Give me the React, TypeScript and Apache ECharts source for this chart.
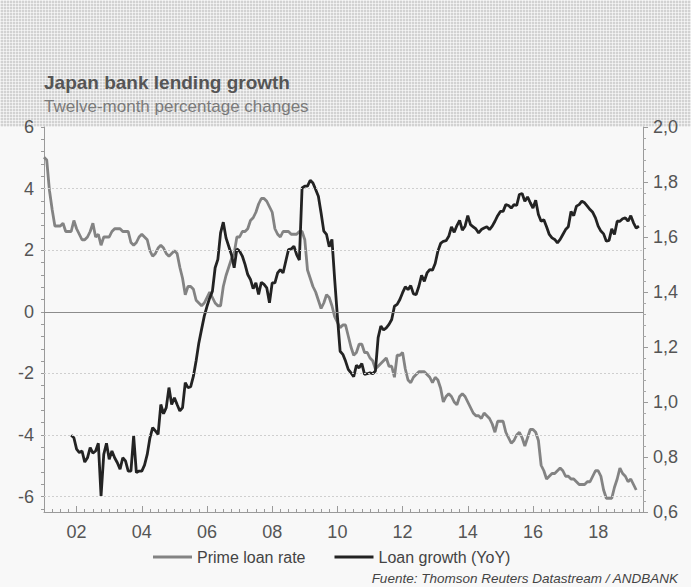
import React, { useEffect, useRef } from "react";
import * as echarts from "echarts";

// ---- Data ----
const titleText = "Japan bank lending growth";
const subtitleText = "Twelve-month percentage changes";
const sourceText = "Fuente: Thomson Reuters Datastream / ANDBANK";

const primeName = "Prime loan rate";
const loanName = "Loan growth (YoY)";

// Monthly, right axis, starts Jan 2001
const primeStart = "2001-01";
const primeLoanRate = [
  1.89, 1.88, 1.77, 1.70, 1.64, 1.64, 1.64, 1.65, 1.62, 1.62,
  1.62, 1.66, 1.63, 1.61, 1.59, 1.59, 1.60, 1.62, 1.65, 1.60,
  1.61, 1.57, 1.60, 1.60, 1.60, 1.62, 1.63, 1.63, 1.63, 1.62,
  1.62, 1.62, 1.58, 1.57, 1.58, 1.60, 1.61, 1.60, 1.59, 1.55,
  1.53, 1.54, 1.56, 1.57, 1.56, 1.54, 1.53, 1.54, 1.55, 1.54,
  1.49, 1.45, 1.39, 1.42, 1.42, 1.41, 1.37, 1.36, 1.35, 1.36,
  1.38, 1.40, 1.38, 1.36, 1.35, 1.35, 1.42, 1.46, 1.49, 1.52,
  1.54, 1.60, 1.60, 1.62, 1.62, 1.63, 1.66, 1.67, 1.69, 1.72,
  1.74, 1.74, 1.73, 1.71, 1.69, 1.63, 1.61, 1.60, 1.62, 1.62,
  1.62, 1.61, 1.61, 1.61, 1.62, 1.62, 1.59, 1.48, 1.45, 1.42,
  1.40, 1.37, 1.34, 1.36, 1.39, 1.38, 1.35, 1.31, 1.29, 1.27,
  1.28, 1.28, 1.24, 1.20, 1.17, 1.18, 1.21, 1.21, 1.18, 1.18,
  1.16, 1.15, 1.12, 1.13, 1.14, 1.15, 1.16, 1.13, 1.13, 1.09,
  1.17, 1.17, 1.18, 1.12, 1.08, 1.07, 1.09, 1.10, 1.11, 1.11,
  1.11, 1.10, 1.09, 1.07, 1.09, 1.08, 1.05, 1.00, 1.02, 1.03,
  1.02, 1.00, 0.99, 1.02, 1.03, 1.02, 1.00, 0.98, 0.96, 0.95,
  0.95, 0.94, 0.96, 0.95, 0.94, 0.92, 0.89, 0.93, 0.93, 0.93,
  0.89, 0.87, 0.85, 0.86, 0.88, 0.89, 0.87, 0.84, 0.87, 0.90,
  0.90, 0.89, 0.86, 0.77, 0.75, 0.72, 0.73, 0.74, 0.74, 0.75,
  0.76, 0.75, 0.73, 0.73, 0.72, 0.72, 0.71, 0.70, 0.70, 0.70,
  0.71, 0.71, 0.73, 0.75, 0.75, 0.73, 0.68, 0.65, 0.65, 0.65,
  0.69, 0.72, 0.76, 0.74, 0.73, 0.71, 0.72, 0.70, 0.68,
];

// Monthly, left axis, starts Nov 2001
const loanStart = "2001-11";
const loanGrowth = [
  -4.01, -4.09, -4.46, -4.57, -4.52, -4.88, -4.74, -4.41, -4.59, -4.52,
  -4.27, -5.98, -4.63, -4.27, -4.79, -4.52, -4.74, -4.90, -5.11, -4.74,
  -4.84, -5.17, -5.17, -4.03, -5.22, -5.17, -5.17, -4.98, -4.63, -4.09,
  -3.76, -3.87, -3.98, -3.01, -3.31, -3.11, -2.46, -3.01, -2.79, -3.01,
  -3.22, -3.11, -2.30, -2.46, -2.43, -2.09, -1.59, -1.01, -0.57, -0.14,
  0.18, 0.45, 0.67, 1.43, 1.70, 2.56, 2.91, 2.40, 2.13, 1.86,
  1.43, 2.04, 1.97, 1.81, 1.54, 1.21, 1.05, 0.75, 0.94, 0.56,
  0.96, 0.89, 0.78, 0.29, 0.94, 0.94, 1.26, 1.37, 1.26, 1.64,
  2.02, 2.04, 2.13, 1.86, 1.68, 4.02, 4.08, 4.08, 4.27, 4.18,
  3.97, 3.75, 3.21, 2.62, 2.51, 2.11, 2.35, 1.05, -0.14, -1.28,
  -1.38, -1.60, -1.87, -1.98, -2.11, -1.74, -1.82, -1.68, -2.03, -2.01,
  -1.98, -2.01, -1.92, -0.84, -0.46, -0.59, -0.52, -0.41, -0.25, 0.18,
  0.24, 0.40, 0.62, 0.81, 0.72, 0.85, 0.58, 0.56, 0.83, 1.18,
  0.99, 1.26, 1.37, 1.35, 1.57, 1.97, 2.22, 2.29, 2.31, 2.45,
  2.76, 2.58, 2.80, 2.97, 2.65, 2.78, 3.12, 2.83, 2.76, 2.69,
  2.56, 2.67, 2.72, 2.76, 2.67, 2.78, 2.94, 3.12, 3.26, 3.26,
  3.48, 3.45, 3.37, 3.48, 3.45, 3.81, 3.84, 3.59, 3.73, 3.54,
  3.37, 3.62, 3.16, 2.94, 2.99, 2.76, 2.51, 2.40, 2.35, 2.24,
  2.35, 2.51, 2.67, 2.76, 3.26, 3.12, 3.43, 3.48, 3.59, 3.54,
  3.43, 3.32, 3.23, 3.05, 2.78, 2.62, 2.53, 2.29, 2.32, 2.69,
  2.51, 2.94, 2.94, 3.02, 3.05, 2.94, 3.12, 2.89, 2.72, 2.78,
];

const xLabelYears = [2002, 2004, 2006, 2008, 2010, 2012, 2014, 2016, 2018];
const xMin = 2001;
const xMax = 2019.375;
const leftLabelValues = [-6, -4, -2, 0, 2, 4, 6];
const leftMin = -6.5;
const leftMax = 6;
const dashedGridValues = [-6, -4, -2, 2, 4];
const zeroLine = 0;
const rightMin = 0.6;
const rightMax = 2.0;
const rightStep = 0.2;

const FONT = '"Liberation Sans", Arial, sans-serif';

function toPairs(start: string, values: number[]) {
  const [y, m] = start.split("-").map(Number);
  return values.map((v, i) => [y + (m - 1 + i) / 12, v]);
}

export default function App() {
  const ref = useRef<HTMLDivElement>(null);

  useEffect(() => {
    document.body.style.margin = "0";
    if (!ref.current) return;
    const chart = echarts.init(ref.current, undefined, { renderer: "svg" });

    const leftMinorTicks: number[] = [];
    for (let k = -16; k <= 15; k++) leftMinorTicks.push(Math.round(k * 0.4 * 10) / 10);
    const quarterTicks: number[] = [];
    for (let t = xMin; t <= xMax + 1e-9; t += 0.25) quarterTicks.push(t);

    const option: any = {
      animation: false,
      backgroundColor: "transparent",
      textStyle: { fontFamily: FONT },
      grid: { left: 44, right: 48, top: 127, bottom: 75, containLabel: false },
      graphic: [
        {
          type: "text",
          x: 44,
          y: 82,
          style: {
            text: titleText,
            fill: "#555555",
            fontSize: 19,
            fontWeight: "bold",
            fontFamily: FONT,
            verticalAlign: "middle",
            align: "left",
          },
        },
        {
          type: "text",
          x: 44,
          y: 106,
          style: {
            text: subtitleText,
            fill: "#7a7a7a",
            fontSize: 17,
            fontFamily: FONT,
            verticalAlign: "middle",
            align: "left",
          },
        },
        {
          type: "text",
          x: 678,
          y: 578,
          style: {
            text: sourceText,
            fill: "#444444",
            fontSize: 13.5,
            fontStyle: "italic",
            fontFamily: FONT,
            verticalAlign: "middle",
            align: "right",
          },
        },
      ],
      legend: {
        data: [primeName, loanName],
        left: 148,
        top: 544,
        icon: "rect",
        itemWidth: 39,
        itemHeight: 3,
        itemGap: 29,
        textStyle: { fontSize: 16, color: "#444444", fontFamily: FONT },
      },
      xAxis: [
        {
          type: "value",
          min: xMin,
          max: xMax,
          position: "bottom",
          axisLine: { show: true, onZero: false, lineStyle: { color: "#9a9a9a", width: 1 } },
          axisTick: {
            show: true,
            inside: true,
            length: 3,
            customValues: quarterTicks,
            lineStyle: { color: "#9a9a9a" },
          },
          axisLabel: {
            customValues: xLabelYears,
            formatter: (v: number) => String(Math.round(v) % 100).padStart(2, "0"),
            fontSize: 18,
            color: "#555555",
            fontFamily: FONT,
            margin: 11,
          },
          splitLine: { show: false },
        },
        {
          type: "value",
          min: xMin,
          max: xMax,
          position: "bottom",
          axisLine: { show: false, onZero: false },
          axisTick: {
            show: true,
            inside: true,
            length: 6,
            customValues: xLabelYears,
            lineStyle: { color: "#9a9a9a" },
          },
          axisLabel: { show: false },
          splitLine: { show: false },
        },
      ],
      yAxis: [
        {
          type: "value",
          min: leftMin,
          max: leftMax,
          position: "left",
          axisLine: { show: true, lineStyle: { color: "#9a9a9a", width: 1 } },
          axisTick: {
            show: true,
            length: 3,
            customValues: leftMinorTicks,
            lineStyle: { color: "#9a9a9a" },
          },
          axisLabel: {
            customValues: leftLabelValues,
            fontSize: 18,
            color: "#555555",
            fontFamily: FONT,
            margin: 10,
          },
          splitLine: { show: false },
        },
        {
          type: "value",
          min: rightMin,
          max: rightMax,
          interval: rightStep,
          position: "right",
          axisLine: { show: true, lineStyle: { color: "#9a9a9a", width: 1 } },
          axisTick: { show: true, length: 5, lineStyle: { color: "#9a9a9a" } },
          minorTick: { show: true, splitNumber: 5, length: 3, lineStyle: { color: "#a8a8a8" } },
          axisLabel: {
            formatter: (v: number) => v.toFixed(1).replace(".", ","),
            fontSize: 18,
            color: "#555555",
            fontFamily: FONT,
            margin: 10,
          },
          splitLine: { show: false },
        },
      ],
      series: [
        {
          name: "gridlines",
          type: "line",
          xAxisIndex: 0,
          yAxisIndex: 0,
          data: [],
          z: 1,
          silent: true,
          markLine: {
            silent: true,
            symbol: ["none", "none"],
            label: { show: false },
            emphasis: { disabled: true },
            data: [
              ...dashedGridValues.map((v) => ({
                yAxis: v,
                lineStyle: { color: "#cfcfcf", width: 1, type: [2, 2] },
              })),
              { yAxis: zeroLine, lineStyle: { color: "#8c8c8c", width: 1, type: "solid" } },
            ],
          },
        },
        {
          name: primeName,
          type: "line",
          xAxisIndex: 0,
          yAxisIndex: 1,
          data: toPairs(primeStart, primeLoanRate),
          showSymbol: false,
          symbol: "none",
          z: 3,
          lineStyle: { color: "#838383", width: 2.8 },
          itemStyle: { color: "#838383" },
        },
        {
          name: loanName,
          type: "line",
          xAxisIndex: 0,
          yAxisIndex: 0,
          data: toPairs(loanStart, loanGrowth),
          showSymbol: false,
          symbol: "none",
          z: 4,
          lineStyle: { color: "#232323", width: 2.8 },
          itemStyle: { color: "#232323" },
        },
      ],
    };

    chart.setOption(option);
    return () => chart.dispose();
  }, []);

  return (
    <div
      style={{
        position: "absolute",
        left: 0,
        top: 0,
        width: 691,
        height: 587,
        background: "#f8f8f8",
        overflow: "hidden",
      }}
    >
      <div
        style={{
          position: "absolute",
          left: 0,
          top: 0,
          width: 691,
          height: 127,
          backgroundColor: "#d2d2d2",
          backgroundImage:
            "linear-gradient(to right, rgba(255,255,255,0.55) 1px, transparent 1px), linear-gradient(to bottom, rgba(255,255,255,0.55) 1px, transparent 1px)",
          backgroundSize: "3px 3px",
        }}
      />
      <div ref={ref} style={{ position: "absolute", left: 0, top: 0, width: 691, height: 587 }} />
    </div>
  );
}
